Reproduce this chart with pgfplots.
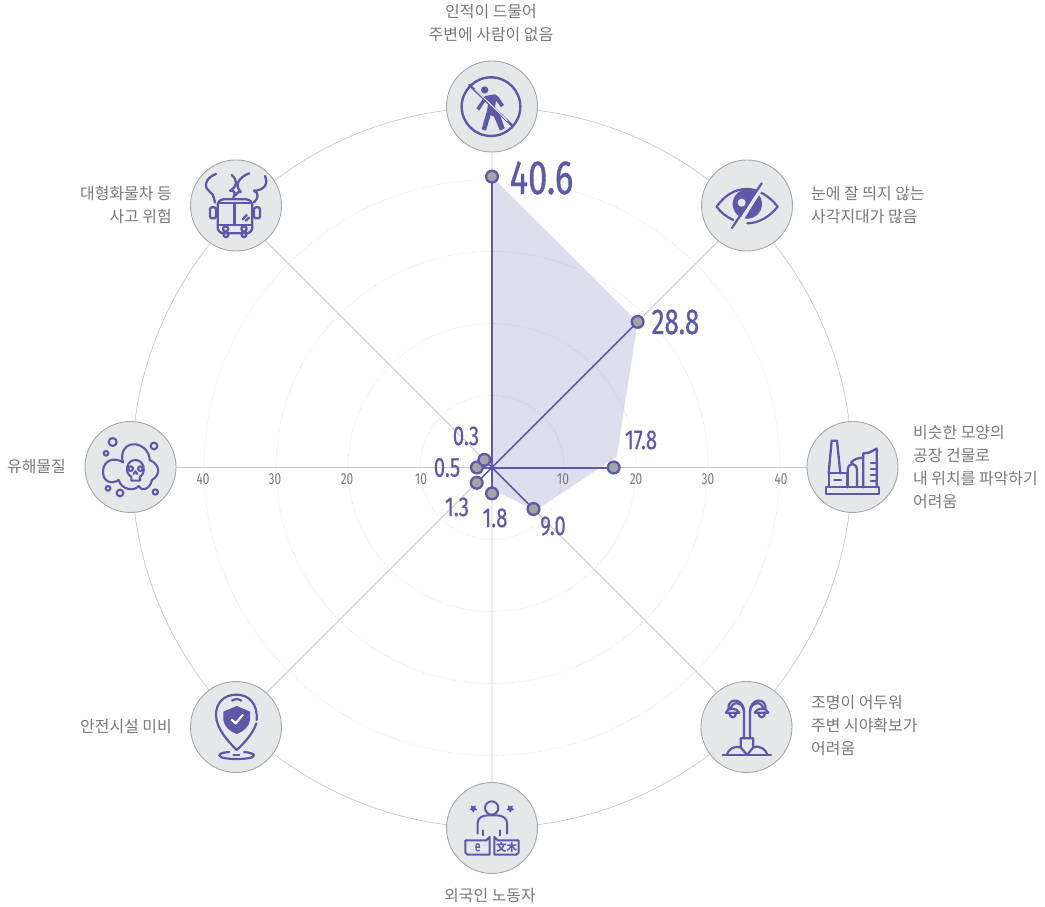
\documentclass[border=0pt]{standalone}
\usepackage{fontspec}
\usepackage{pgfplots}
\pgfplotsset{compat=1.18}
\usepgfplotslibrary{polar}
\setmainfont{Noto Sans CJK KR}
\newfontfamily\kr{Noto Sans CJK KR}
\newfontfamily\numf[FakeStretch=0.72,FakeBold=0.7]{Fira Sans}
\newfontfamily\numg[FakeStretch=0.74,FakeBold=0.3]{Fira Sans}
\newfontfamily\tickf[FakeStretch=0.74]{Fira Sans}
\definecolor{pur}{HTML}{5F58A8}
\definecolor{disc}{HTML}{E6E7E9}
\definecolor{ring}{HTML}{A6A6A6}
\definecolor{spoke}{HTML}{C9C9C9}
\definecolor{dots}{HTML}{DADADA}
\definecolor{txt}{HTML}{77787B}
\definecolor{mk}{HTML}{A5A5A5}
% angle (deg) and radial position of each point, as drawn on the radial scale
\pgfplotstableread{
a r
90 40.4
45 28.6
0 16.9
-45 8.15
-90 3.6
-135 3.0
180 2.1
135 1.5
}\pts
\newcommand{\lab}[4]{\node[anchor=#3,inner sep=0,text=txt,font=\kr\fontsize{15.95}{18}\selectfont,text height=10pt,text depth=3pt] at (#1,#2+2.5) {#4};}
\newcommand{\val}[4]{\node[inner sep=0,text=pur,font=\numf\fontsize{#3}{#3}\selectfont] at (#1,#2) {#4};}
\newcommand{\vals}[3]{\node[inner sep=0,text=pur,font=\numg\fontsize{27.5}{28}\selectfont] at (#1,#2) {#3};}
\newcommand{\dsk}[2]{\fill[disc] (#1,#2) circle[radius=45.5]; \draw[ring,line width=0.9pt] (#1,#2) circle[radius=45.5];}
\begin{document}
\begin{tikzpicture}
\begin{axis}[hide axis,clip=false,x=7.2pt,y=7.2pt,
  xmin=-68.333,xmax=76.806,ymin=-61.04,ymax=64.93]
\tikzset{dotc/.style={dots,line width=0.6pt,dash pattern=on 0.7pt off 1.5pt}}
\draw[dotc] (axis cs:0,0) circle[radius=72pt];
\draw[dotc] (axis cs:0,0) circle[radius=144pt];
\draw[dotc] (axis cs:0,0) circle[radius=216pt];
\draw[dotc] (axis cs:0,0) circle[radius=288pt];
\draw[spoke,line width=0.7pt] (axis cs:0,0) circle[radius=360pt];
\draw[spoke,line width=0.8pt] (axis cs:-50,0)--(axis cs:50,0) (axis cs:0,-50)--(axis cs:0,50)
  (axis cs:-36,-36)--(axis cs:36,36) (axis cs:-36,36)--(axis cs:36,-36);
\addplot[data cs=polar,fill=pur,fill opacity=0.2,draw=none] coordinates {(90,40.4)(45,28.6)(5,17.4)(-45,8.5)(-70,3.9)(-90,3.6)(0,0)} -- cycle;
\addplot[data cs=polar,pur,line width=2pt] coordinates {(90,0)(90,40.4)};
\addplot[data cs=polar,pur,line width=1.5pt] coordinates {(45,0)(45,28.6)};
\addplot[data cs=polar,pur,line width=2pt] coordinates {(0,0)(0,16.9)};
\addplot[data cs=polar,pur,line width=1.5pt] coordinates {(-45,0)(-45,8.15)};
\addplot[data cs=polar,pur,line width=2pt] coordinates {(-90,0)(-90,3.6)};
\addplot[data cs=polar,pur,line width=1.5pt] coordinates {(-135,0)(-135,3.0)};
\addplot[data cs=polar,pur,line width=2pt] coordinates {(180,0)(180,2.1)};
\addplot[data cs=polar,pur,line width=1.5pt] coordinates {(135,0)(135,1.5)};
\addplot[data cs=polar,only marks,mark=*,mark size=5.9pt,mark options={fill=mk,draw=pur,line width=2.3pt}] table[x=a,y=r] {\pts};
\end{axis}
\begin{scope}[shift={(0,907pt)},x=1pt,y=-1pt]
\foreach \x/\y in {492/106.5,747/205.5,852.5/467,746.5/727,492/828,236/727,130.5/467,236/205.5}{\dsk{\x}{\y}}
% labels
\lab{491}{12}{center}{인적이 드물어}
\lab{491}{35}{center}{주변에 사람이 없음}
\lab{811}{194}{west}{눈에 잘 띄지 않는}
\lab{811}{217}{west}{사각지대가 많음}
\lab{913}{433}{west}{비슷한 모양의}
\lab{913}{456}{west}{공장 건물로}
\lab{913}{479}{west}{내 위치를 파악하기}
\lab{913}{502}{west}{어려움}
\lab{811}{703}{west}{조명이 어두워}
\lab{811}{726}{west}{주변 시야확보가}
\lab{811}{749}{west}{어려움}
\lab{490}{896}{center}{외국인 노동자}
\lab{172}{727}{east}{안전시설 미비}
\lab{66}{467}{east}{유해물질}
\lab{172}{194}{east}{대형화물차 등}
\lab{172}{217}{east}{사고 위험}
% ticks
\foreach \x/\v in {203/40,275/30,347/20,421/10,563/10,636/20,708/30,781/40}{\node[inner sep=0,text=txt,font=\tickf\fontsize{16}{16}\selectfont] at (\x,479.5) {\v};}
% values
\val{541.5}{178}{48}{40.6}
\val{675.5}{322}{36}{28.8}
\vals{641}{440}{17.8}
\vals{466}{436}{0.3}
\vals{447}{467.5}{0.5}
\vals{457}{507}{1.3}
\vals{495}{518}{1.8}
\vals{553}{526}{9.0}
% icon: no pedestrian
\begin{scope}[shift={(420,0)},scale=1/3,pur,line width=2.4pt,line cap=round,line join=round]
\draw (213,320) circle[radius=88];
\draw (148,255)--(278,378);
\fill (194,270) circle[radius=11];
\fill (195,288)--(225,283)--(235,290)--(252,315)--(243,322)--(228,302)--(225,322)--(240,345)--(254,385)--(240,392)--(222,350)--(212,345)--(198,392)--(185,388)--(200,335)--(205,310)--(195,305)--(178,332)--(169,325)--cycle;
\draw[disc,line width=1pt] (165,268)--(262,362);
\end{scope}
% icon: eye
\begin{scope}[shift={(690,150)},scale=1/3,pur,line width=2.2pt,line cap=round,line join=round]
\fill (172,162) circle[radius=44];
\fill[disc] (155,158) circle[radius=12];
\draw (80,170) .. controls (105,135) and (135,117) .. (172,117) .. controls (205,117) and (240,140) .. (263,170) .. controls (240,200) and (205,220) .. (172,220);
\draw (80,170) .. controls (92,187) and (108,200) .. (130,210);
\draw[disc,line width=3.5pt,line cap=butt] (222,102)--(135,240);
\draw[line width=2.2pt] (215,100)--(126,234);
\end{scope}
% icon: factory
\begin{scope}[shift={(795,410)},scale=1/3,pur,line width=2.3pt,line cap=round,line join=round]
\draw (92,232) rectangle (253,252);
\draw (101,190)--(110,92)--(126,92)--(136,190);
\draw (101,190) rectangle (156,232);
\draw (118,210)--(138,210);
\draw (158,232)--(158,182) .. controls (158,155) and (186,155) .. (186,182)--(186,232);
\draw (205,232)--(205,130)--(222,128)--(245,116)--(245,232);
\foreach \y in {158,178,195,212}{\draw (228,\y)--(245,\y);}
\draw (168,158) .. controls (178,146) and (190,144) .. (205,143);
\end{scope}
% icon: street lamp
\begin{scope}[shift={(690,670)},scale=1/3,pur,line width=2.2pt,line cap=round,line join=round]
\draw (98,255)--(243,255);
\draw (152,205)--(190,205)--(190,232)--(171,255)--(152,232)--cycle;
\draw (162,205)--(162,125) .. controls (162,100) and (130,88) .. (122,115);
\draw (180,205)--(180,125) .. controls (180,100) and (212,88) .. (220,115);
\draw (162,125) .. controls (162,85) and (115,80) .. (115,115);
\draw (180,125) .. controls (180,85) and (227,80) .. (227,115);
\draw (108,128) .. controls (110,112) and (140,112) .. (148,128)--cycle;
\draw (194,128) .. controls (200,112) and (230,112) .. (235,128)--cycle;
\draw (118,130) .. controls (120,146) and (136,146) .. (138,130);
\draw (205,130) .. controls (207,146) and (223,146) .. (225,130);
\draw (110,255) .. controls (118,235) and (130,228) .. (152,232);
\draw (190,232) .. controls (212,225) and (228,240) .. (233,255);
\end{scope}
% icon: foreign worker
\begin{scope}[shift={(437,772)},scale=1/3,pur,line width=2pt,line cap=round,line join=round]
\draw (164,108) circle[radius=20];
\draw (122,185)--(122,152) .. controls (122,135) and (140,130) .. (155,130)--(178,130) .. controls (195,130) and (210,138) .. (210,152)--(210,185);
\draw (138,175)--(138,190) (190,175)--(190,190);
\draw (85,205)--(148,205)--(158,195)--(158,248)--(92,248)--(85,242)--cycle;
\draw (172,195)--(182,205)--(245,205)--(245,242)--(238,248)--(172,248)--cycle;
\node[pur,inner sep=0,font=\numf\fontsize{15}{15}\selectfont] at (122,226) {e};
\node[pur,inner sep=0,font=\kr\bfseries\fontsize{10.5}{11}\selectfont] at (209,227) {文木};
\foreach \sx/\sy in {109/110,220/110}{\begin{scope}[shift={(\sx,\sy)}]\filldraw[line width=1pt] (90:10)--(126:4.5)--(162:10)--(198:4.5)--(234:10)--(270:4.5)--(306:10)--(342:4.5)--(18:10)--(54:4.5)--cycle;\end{scope}}
\end{scope}
% icon: safety pin
\begin{scope}[shift={(180,670)},scale=1/3,pur,line width=2.2pt,line cap=round,line join=round]
\draw (230,150) .. controls (234,100) and (205,74) .. (170,74) .. controls (130,74) and (108,100) .. (108,135) .. controls (108,175) and (145,215) .. (170,240) .. controls (190,222) and (220,190) .. (229,160);
\draw (156,92) .. controls (165,86) and (175,86) .. (184,92);
\fill (130,125)--(170,108)--(210,125)--(210,150) .. controls (208,170) and (190,185) .. (170,192) .. controls (150,185) and (132,170) .. (130,150)--cycle;
\draw[white,line width=2.2pt] (156,150)--(167,160)--(188,135);
\draw (148,246) .. controls (125,248) and (118,252) .. (118,256) .. controls (118,264) and (145,267) .. (170,267) .. controls (195,267) and (222,264) .. (222,256) .. controls (222,252) and (212,248) .. (192,246);
\draw (160,255)--(178,255);
\end{scope}
% icon: toxic cloud
\begin{scope}[shift={(78,410)},scale=1/3,pur,line width=2.1pt,line cap=round,line join=round]
\draw (135,157) .. controls (110,140) and (75,150) .. (75,185) .. controls (75,215) and (100,225) .. (122,210) .. controls (130,240) and (170,245) .. (182,228) .. controls (190,245) and (215,240) .. (222,210) .. controls (248,195) and (248,165) .. (215,150) .. controls (215,120) and (185,100) .. (165,103) .. controls (145,103) and (125,125) .. (135,157);
\fill[disc] (172,182) ellipse[x radius=28,y radius=32];
\draw (160,212)--(160,200) .. controls (138,190) and (145,150) .. (172,150) .. controls (200,150) and (205,190) .. (186,200)--(186,212)--cycle;
\draw (158,176) circle[radius=7] (187,176) circle[radius=7];
\draw (167,192)--(172,184)--(178,192);
\foreach \x/\y/\rr in {104/96/12,84/130/7,228/108/10,90/235/7,126/249/10,232/246/8}{\draw (\x,\y) circle[radius=\rr];}
\end{scope}
% icon: bus
\begin{scope}[shift={(180,150)},scale=1/3,pur,line width=2.3pt,line cap=round,line join=round]
\draw[rounded corners=6pt] (113,250) rectangle (217,148);
\draw (113,160)--(217,160);
\draw (113,225)--(217,225);
\draw[line width=2.8pt] (163,162)--(163,225);
\draw (137,237) circle[radius=8] (192,237) circle[radius=8];
\draw (130,250) .. controls (130,266) and (146,266) .. (146,250);
\draw (184,250) .. controls (184,266) and (200,266) .. (200,250);
\draw[rounded corners=2pt] (90,172) rectangle (108,205);
\draw[rounded corners=2pt] (222,172) rectangle (240,205);
\draw (188,208)--(200,195) (197,212)--(207,203);
\draw (105,158) .. controls (100,135) and (98,128) .. (88,124) .. controls (72,115) and (72,85) .. (108,72);
\draw (155,75) .. controls (172,90) and (175,108) .. (150,122) .. controls (165,122) and (168,130) .. (160,142);
\draw (208,70) .. controls (180,80) and (160,105) .. (182,125) .. controls (172,125) and (170,130) .. (167,136);
\draw (255,78) .. controls (268,108) and (245,122) .. (222,122) .. controls (238,130) and (235,145) .. (222,157);
\end{scope}
\end{scope}
\pgfresetboundingbox
\path (0,0) rectangle (1045pt,907pt);
\end{tikzpicture}
\end{document}
